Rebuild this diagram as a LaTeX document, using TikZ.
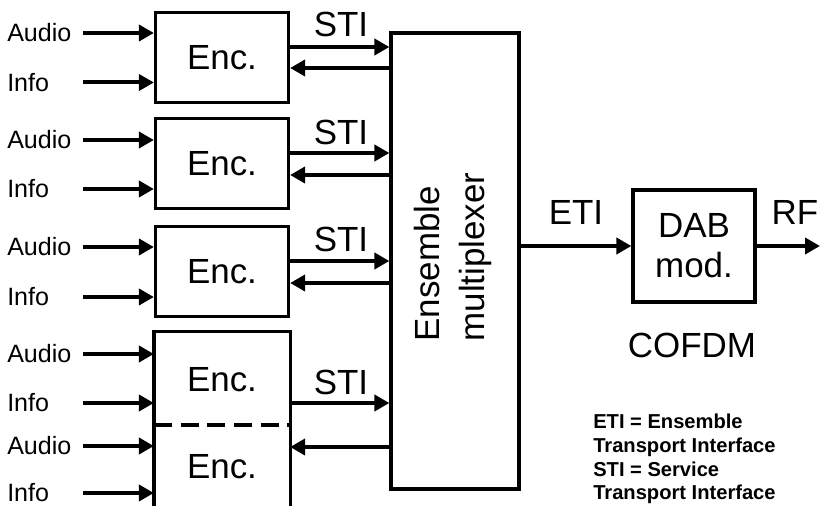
\documentclass[tikz,border=0pt]{standalone}
\usepackage{fontspec}
\setmainfont{Liberation Sans}
\usetikzlibrary{arrows.meta}
\begin{document}
\begin{tikzpicture}[x=0.75pt,y=-0.75pt,
  box/.style={draw, line width=2.4pt, minimum width=99.75pt, minimum height=67.5pt, inner sep=0pt, font=\fontsize{26.2}{30}\selectfont},
  arr/.style={line width=3pt, -{Triangle[length=11.25pt,width=12pt]}},
  lbl/.style={inner sep=0pt, anchor=west, font=\fontsize{18.8}{21}\selectfont},
  big/.style={inner sep=0pt, font=\fontsize{26.2}{30}\selectfont},
  leg/.style={inner sep=0pt, anchor=base west, font=\bfseries\fontsize{15.1}{17}\selectfont}]
\useasboundingbox (0,0) rectangle (820,506);

% multiplexer
\node[draw, line width=2.4pt, minimum width=96pt, minimum height=342pt, inner sep=0pt] (mux) at (455,261) {};
\node[big, rotate=90, align=left, font=\fontsize{26.2}{33.75}\selectfont] (muxtext) at (452.5,257) {Ensemble\\multiplexer};

% encoders 1-3
\node[box] (enc1) at (222,57.5) {Enc.};
\node[box] (enc2) at (222,163.5) {Enc.};
\node[box] (enc3) at (222,271.5) {Enc.};

% encoder 4 (open bottom, two halves)
\node[draw=none, line width=2.4pt, minimum width=99.75pt, minimum height=129.75pt, inner sep=0pt] (enc4) at (222,419.5) {};
\draw[line width=2.4pt] (enc4.south west) -- (enc4.north west) -- (enc4.north east) -- (enc4.south east);
\coordinate (dl) at (enc4.west |- 0,425);
\coordinate (dr) at (enc4.east |- 0,425);
\draw[line width=3pt, dash pattern=on 13.5pt off 6.5pt] (dl) -- (dr);
\node[big] (enc4a) at (222,380) {Enc.};
\node[big] (enc4b) at (222,467) {Enc.};

% inputs
\foreach \n/\y/\t/\b in {a1/33/Audio/enc1, i1/82.5/Info/enc1, a2/140/Audio/enc2, i2/189/Info/enc2, a3/247/Audio/enc3, i3/297/Info/enc3, a4/354/Audio/enc4, i4/403/Info/enc4, a5/446/Audio/enc4, i5/493/Info/enc4}{
  \node[lbl] (l\n) at (7,\y) {\t};
  \coordinate (s\n) at (83,\y);
  \draw[arr] (s\n) -- (s\n -| \b.west);
}

% STI links
\foreach \b/\f/\k/\s in {enc1/47/68/24, enc2/153/175/132, enc3/261/283/239}{
  \draw[arr] (\b.east |- 0,\f) -- (mux.west |- 0,\f);
  \draw[arr] (mux.west |- 0,\k) -- (\b.east |- 0,\k);
  \node[big] (sti\b) at (341,\s) {STI};
}
\draw[arr] (enc4.east |- 0,403) -- (mux.west |- 0,403);
\draw[arr] (mux.west |- 0,447) -- (enc4.east |- 0,447);
\node[big] (sti4) at (341,382) {STI};

% DAB modulator
\node[draw, line width=2.4pt, minimum width=91.5pt, minimum height=84pt, inner sep=0pt, align=center, font=\fontsize{26.2}{30}\selectfont] (dab) at (694,246) {DAB\\mod.};
\draw[arr] (mux.east |- dab.west) -- (dab.west);
\node[big] (eti) at (576,212) {ETI};
\coordinate (rfend) at (820,246);
\draw[arr] (dab.east) -- (rfend);
\node[big] (rf) at (795,212) {RF};
\node[big] (cofdm) at (692,345) {COFDM};

% legend
\node[leg] (leg1) at (593,428) {ETI = Ensemble};
\node[leg] (leg2) at (593,452) {Transport Interface};
\node[leg] (leg3) at (593,476) {STI = Service};
\node[leg] (leg4) at (593,499) {Transport Interface};
\end{tikzpicture}
\end{document}
